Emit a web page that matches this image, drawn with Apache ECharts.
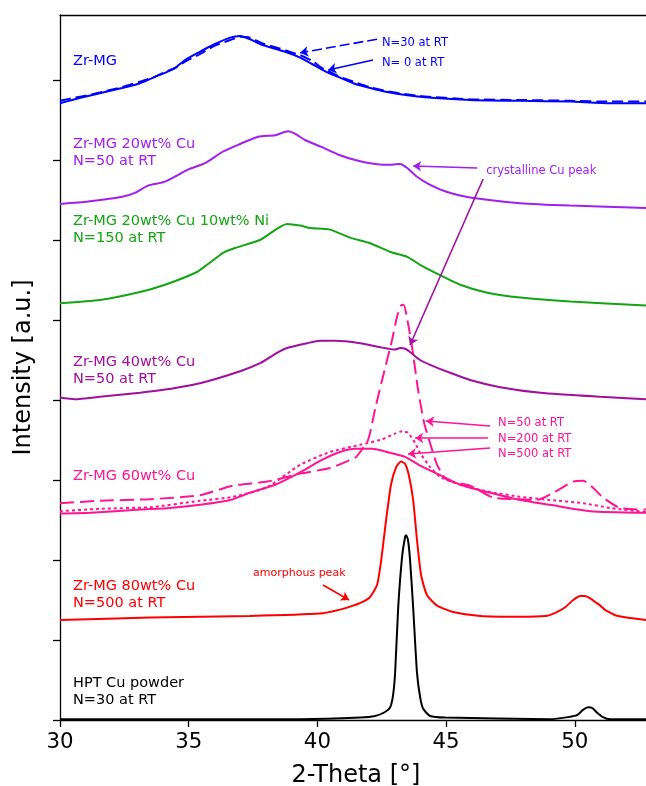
<!DOCTYPE html>
<html>
<head>
<meta charset="utf-8">
<script src="https://cdn.jsdelivr.net/npm/echarts@6/dist/echarts.min.js"></script>
<style>html,body{margin:0;padding:0;background:#fff}#c{width:646px;height:786px}</style>
</head>
<body>
<div id="c"></div>
<script>
// ---- data (2-Theta in degrees, intensity in arbitrary offset units) ----
const xTicks = [30, 35, 40, 45, 50];
const yTicks = [0, 1, 2, 3, 4, 5, 6, 7, 8];

const zrMG_N0 = [[30.00,7.71],[30.58,7.76],[31.09,7.80],[31.75,7.85],[32.41,7.90],[33.11,7.96],[33.69,8.04],[34.08,8.09],[34.47,8.15],[34.86,8.25],[35.36,8.34],[36.02,8.45],[36.61,8.53],[37.00,8.55],[37.38,8.51],[37.85,8.44],[38.36,8.39],[38.86,8.34],[39.33,8.28],[39.79,8.20],[40.18,8.13],[40.49,8.08],[40.88,8.03],[41.39,7.96],[42.05,7.90],[42.71,7.85],[43.99,7.79],[45.93,7.75],[47.88,7.74],[49.82,7.73],[51.38,7.71],[52.77,7.71]];
const zrMG_N30 = [[30.00,7.74],[30.58,7.78],[31.09,7.81],[31.75,7.86],[32.41,7.91],[33.11,7.98],[33.69,8.04],[34.08,8.10],[34.47,8.15],[34.86,8.23],[35.36,8.31],[36.02,8.43],[36.61,8.50],[37.00,8.54],[37.38,8.53],[37.85,8.46],[38.36,8.41],[38.86,8.36],[39.33,8.31],[39.79,8.24],[40.18,8.15],[40.49,8.10],[40.88,8.04],[41.39,7.98],[42.05,7.91],[42.71,7.86],[43.99,7.80],[45.93,7.76],[47.88,7.75],[49.82,7.74],[51.38,7.73],[52.77,7.73]];
const cu20_N50 = [[30.00,6.45],[31.09,6.48],[32.41,6.54],[32.91,6.59],[33.42,6.68],[34.08,6.73],[34.97,6.88],[35.64,6.96],[36.30,7.10],[36.92,7.19],[37.70,7.29],[38.36,7.31],[38.86,7.36],[39.13,7.33],[39.52,7.25],[40.18,7.16],[40.88,7.06],[41.47,7.00],[42.05,6.96],[42.71,6.94],[43.21,6.95],[43.49,6.90],[43.87,6.79],[44.38,6.69],[45.04,6.60],[45.93,6.53],[47.88,6.46],[49.82,6.43],[52.77,6.40]];
const cu20ni10_N150 = [[30.00,5.21],[31.55,5.25],[33.11,5.35],[34.08,5.44],[35.32,5.60],[35.71,5.69],[36.34,5.84],[36.80,5.90],[37.77,6.00],[38.82,6.20],[39.33,6.18],[39.72,6.15],[40.49,6.13],[41.27,6.03],[42.05,5.96],[42.83,5.85],[43.49,5.79],[43.99,5.69],[44.77,5.56],[45.55,5.44],[46.60,5.34],[47.88,5.28],[49.82,5.23],[52.77,5.18]];
const cu40_N50 = [[30.00,4.03],[30.58,4.01],[31.55,4.04],[33.11,4.09],[34.08,4.13],[35.44,4.21],[37.00,4.36],[37.77,4.46],[38.43,4.59],[38.82,4.65],[39.60,4.71],[40.10,4.74],[40.69,4.74],[41.66,4.71],[42.44,4.66],[43.02,4.63],[43.21,4.65],[43.41,4.64],[43.60,4.60],[43.99,4.50],[44.38,4.44],[45.16,4.34],[45.93,4.25],[47.10,4.16],[48.66,4.09],[50.99,4.04],[52.77,4.01]];
const cu60_N50 = [[30.00,2.71],[31.55,2.74],[33.50,2.76],[35.44,2.81],[36.72,2.93],[38.05,2.98],[39.33,3.08],[40.49,3.15],[41.47,3.28],[41.66,3.35],[41.97,3.50],[42.28,3.94],[42.63,4.40],[42.90,4.75],[43.10,5.05],[43.25,5.18],[43.35,5.19],[43.52,4.96],[43.68,4.66],[43.91,4.13],[44.15,3.71],[44.38,3.46],[44.65,3.19],[45.04,3.00],[45.93,2.93],[46.83,2.78],[47.88,2.76],[48.54,2.75],[49.16,2.84],[49.94,2.98],[50.33,2.99],[50.72,2.90],[51.10,2.78],[51.76,2.65],[52.77,2.63]];
const cu60_N200 = [[30.00,2.61],[31.55,2.64],[33.50,2.66],[35.44,2.74],[36.72,2.79],[38.05,2.91],[39.33,3.19],[40.49,3.35],[41.66,3.44],[42.44,3.50],[43.02,3.58],[43.29,3.61],[43.52,3.59],[43.80,3.46],[43.99,3.34],[44.38,3.16],[44.77,3.04],[45.55,2.94],[46.71,2.85],[47.88,2.79],[49.04,2.75],[50.33,2.71],[51.38,2.65],[52.77,2.60]];
const cu60_N500 = [[30.00,2.58],[31.17,2.59],[33.11,2.63],[34.28,2.65],[35.44,2.69],[36.61,2.75],[37.38,2.84],[38.36,2.94],[38.94,3.03],[39.52,3.13],[40.10,3.24],[40.88,3.35],[41.47,3.39],[42.13,3.39],[42.83,3.34],[43.41,3.29],[43.99,3.18],[44.77,3.06],[45.55,2.94],[46.71,2.84],[47.88,2.75],[49.04,2.69],[50.60,2.61],[52.77,2.59]];
const cu80_N500 = [[30.00,1.25],[33.50,1.28],[37.38,1.30],[40.10,1.33],[40.88,1.38],[41.39,1.43],[41.78,1.48],[42.05,1.54],[42.32,1.69],[42.48,2.00],[42.67,2.50],[42.86,2.94],[43.06,3.16],[43.25,3.23],[43.41,3.20],[43.56,3.05],[43.72,2.75],[43.87,2.25],[44.03,1.81],[44.26,1.56],[44.65,1.43],[45.27,1.35],[46.32,1.30],[47.88,1.29],[48.85,1.30],[49.24,1.34],[49.63,1.41],[49.94,1.50],[50.21,1.55],[50.40,1.55],[50.60,1.52],[50.79,1.475],[50.99,1.43],[51.18,1.375],[51.38,1.34],[51.57,1.31],[51.96,1.285],[52.77,1.25]];
const hptCu_N30 = [[30.00,0.01],[39.33,0.01],[41.66,0.03],[42.24,0.05],[42.63,0.10],[42.83,0.16],[42.94,0.31],[43.02,0.59],[43.14,1.41],[43.29,2.04],[43.41,2.29],[43.45,2.31],[43.52,2.25],[43.60,2.00],[43.72,1.41],[43.87,0.59],[43.99,0.29],[44.11,0.14],[44.38,0.05],[44.96,0.03],[49.04,0.01],[49.82,0.04],[50.09,0.06],[50.33,0.13],[50.52,0.16],[50.68,0.15],[50.87,0.09],[51.07,0.04],[51.38,0.01],[52.77,0.01]];

// ---- styling / layout ----
const FONT = 'DejaVu Sans';
const C = {blue:'#0000ff', violet:'#a020f0', green:'#14a514', purple:'#a0109e', pink:'#ff1493', red:'#ff0000', black:'#000000'};

function arrow(from, to, curveness){
  return [{coord: from, lineStyle:{curveness: curveness || 0}}, {coord: to}];
}
function ml(color, items, dashed){
  return {
    silent: true, animation: false,
    symbol: ['none','arrow'], symbolSize: 8,
    label: {show:false},
    lineStyle: {color: color, width: 1.6, type: dashed ? [10,4] : 'solid'},
    emphasis: {disabled: true},
    data: items
  };
}
function line(name, data, color, type, markLine){
  const s = {
    name: name, type: 'line', data: data, symbol: 'none', showSymbol: false,
    smooth: 0.2, animation: false, silent: true,
    lineStyle: {color: color, width: 2, type: type || 'solid'},
    emphasis: {disabled: true}
  };
  if (markLine) s.markLine = markLine;
  return s;
}

const chart = echarts.init(document.getElementById('c'), null, {renderer:'canvas'});
const axisLineStyle = {color:'#000', width:1.3};
chart.setOption({
  animation: false,
  backgroundColor: '#fff',
  grid: {left: 60, right: -6, top: 15, bottom: 66, containLabel: false, outerBoundsMode: 'none'},
  xAxis: [{
    type:'value', min:30, max:53, interval:5,
    axisLine:{show:true, onZero:false, lineStyle:axisLineStyle},
    axisTick:{show:true, length:7, lineStyle:axisLineStyle},
    axisLabel:{fontSize:21.3, color:'#000', fontFamily:FONT, margin:12,
      formatter: v => xTicks.indexOf(v) >= 0 ? String(v) : ''},
    splitLine:{show:false},
    name:'2-Theta [°]', nameLocation:'middle', nameGap:44,
    nameTextStyle:{fontSize:24, color:'#000', fontFamily:FONT}
  },{
    type:'value', position:'top', min:30, max:53,
    axisLine:{show:true, onZero:false, lineStyle:axisLineStyle},
    axisTick:{show:false}, axisLabel:{show:false}, splitLine:{show:false}
  }],
  yAxis: {
    type:'value', min:0, max:8.8125, interval:1,
    axisLine:{show:true, onZero:false, lineStyle:axisLineStyle},
    axisTick:{show:true, length:7, lineStyle:axisLineStyle, customValues: yTicks},
    axisLabel:{show:false}, splitLine:{show:false},
    name:'Intensity [a.u.]', nameLocation:'middle', nameGap:24,
    nameTextStyle:{fontSize:24, color:'#000', fontFamily:FONT}
  },
  series: [
    line('HPT Cu N=30', hptCu_N30, C.black),
    line('80wt% Cu N=500', cu80_N500, C.red, 'solid', ml(C.red, [arrow([40.22,1.6875],[41.23,1.50])])),
    line('60wt% Cu N=500', cu60_N500, C.pink, 'solid', ml(C.pink, [
      arrow([46.71,3.675],[44.22,3.7375], 0.05),
      arrow([46.63,3.525],[43.80,3.525], 0),
      arrow([46.71,3.40],[43.52,3.325], -0.04)
    ])),
    line('60wt% Cu N=200', cu60_N200, C.pink, [3,3]),
    line('60wt% Cu N=50', cu60_N50, C.pink, [14,6]),
    line('40wt% Cu N=50', cu40_N50, C.purple, 'solid', ml(C.purple, [arrow([46.44,6.7625],[43.60,4.6875])])),
    line('20wt% Cu 10wt% Ni N=150', cu20ni10_N150, C.green),
    line('20wt% Cu N=50', cu20_N50, C.violet, 'solid', ml(C.violet, [arrow([46.21,6.90],[43.72,6.925])])),
    line('Zr-MG N=30', zrMG_N30, C.blue, [11,5], ml(C.blue, [arrow([42.32,8.51],[39.33,8.34], -0.08)], true)),
    line('Zr-MG N=0', zrMG_N0, C.blue, 'solid', ml(C.blue, [arrow([42.16,8.25],[40.42,8.125], -0.13)]))
  ]
});

// ---- text annotations placed in data coordinates ----
const labels = [
  {t:'Zr-MG', p:[30.505,8.2375], c:C.blue, s:14.5},
  {t:'Zr-MG 20wt% Cu\nN=50 at RT', p:[30.505,7.094], c:C.violet, s:14.5},
  {t:'Zr-MG 20wt% Cu 10wt% Ni\nN=150 at RT', p:[30.505,6.131], c:C.green, s:14.5},
  {t:'Zr-MG 40wt% Cu\nN=50 at RT', p:[30.505,4.369], c:C.purple, s:14.5},
  {t:'Zr-MG 60wt% Cu', p:[30.505,3.05], c:C.pink, s:14.5},
  {t:'Zr-MG 80wt% Cu\nN=500 at RT', p:[30.505,1.5625], c:C.red, s:14.5},
  {t:'HPT Cu powder\nN=30 at RT', p:[30.505,0.356], c:C.black, s:14.5},
  {t:'N=30 at RT', p:[42.51,8.4625], c:C.blue, s:11.5},
  {t:'N= 0 at RT', p:[42.51,8.2125], c:C.blue, s:11.5},
  {t:'crystalline Cu peak', p:[46.56,6.8625], c:C.violet, s:11.5},
  {t:'N=50 at RT', p:[47.02,3.7125], c:C.pink, s:11.5},
  {t:'N=200 at RT', p:[47.02,3.5125], c:C.pink, s:11.5},
  {t:'N=500 at RT', p:[47.02,3.325], c:C.pink, s:11.5},
  {t:'amorphous peak', p:[37.50,1.8375], c:C.red, s:11}
];
const graphics = labels.map(l => {
  const px = chart.convertToPixel({gridIndex:0}, l.p);
  return {
    type:'text', silent:true, z:100,
    style:{
      text:l.t, x:px[0], y:px[1], fill:l.c,
      fontSize:l.s, fontFamily:FONT, lineHeight: l.s * 1.15,
      textAlign:'left', align:'left', textVerticalAlign:'middle', verticalAlign:'middle'
    }
  };
});
chart.setOption({graphic: graphics});
</script>
</body>
</html>
